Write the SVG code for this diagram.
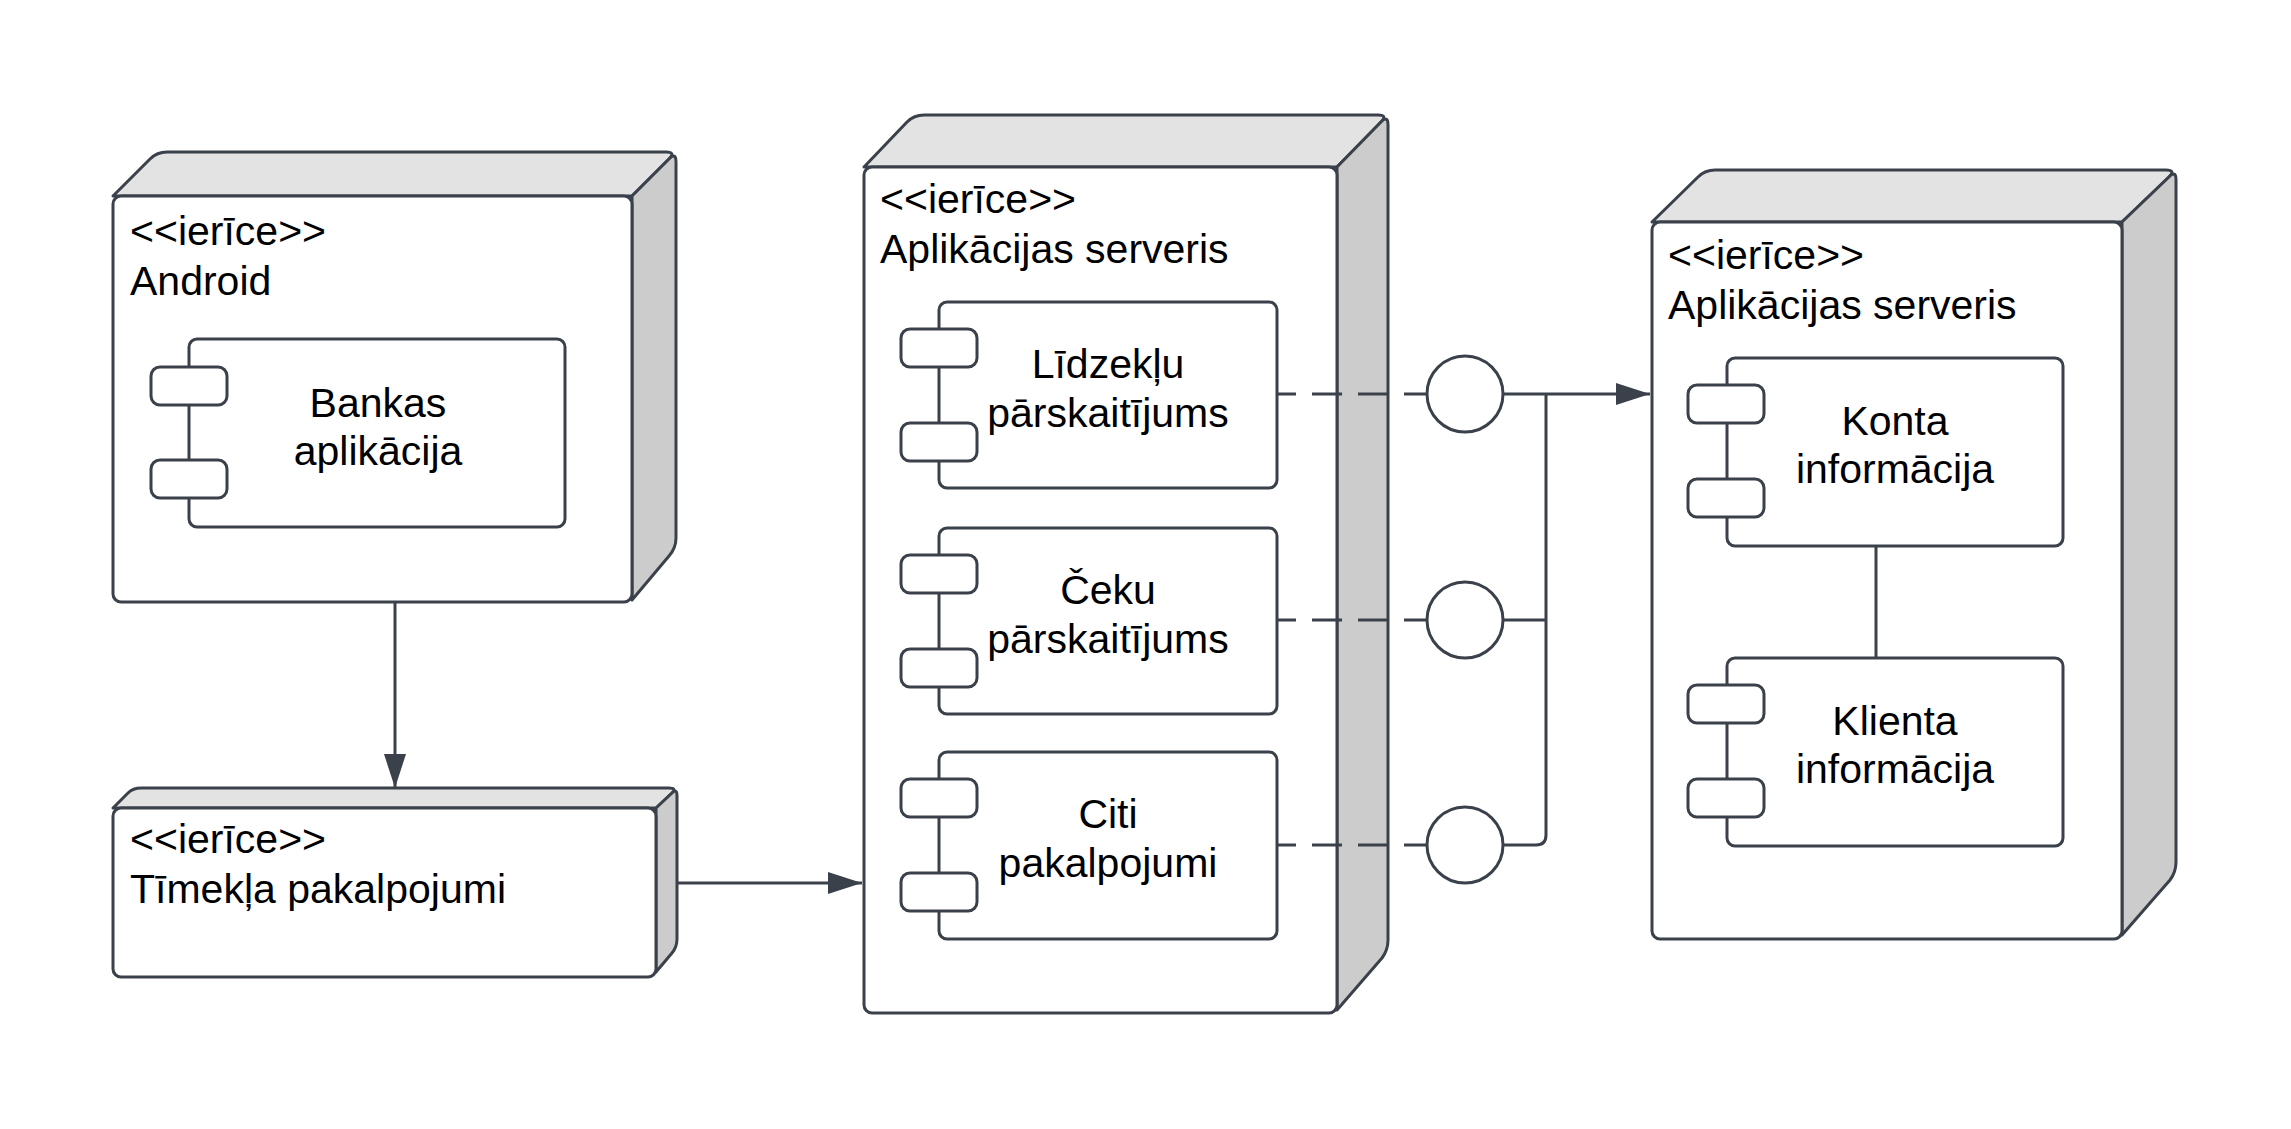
<svg xmlns="http://www.w3.org/2000/svg" width="2291" height="1129" viewBox="0 0 2291 1129">
<defs>
<style>
.top{fill:#e3e3e3;stroke:#3a414a;stroke-width:3;stroke-linejoin:round}
.side{fill:#cccccc;stroke:#3a414a;stroke-width:3;stroke-linejoin:round}
.front{fill:#ffffff;stroke:#3a414a;stroke-width:3}
.comp{fill:#ffffff;stroke:#3a414a;stroke-width:3}
.port{fill:#ffffff;stroke:#3a414a;stroke-width:3}
.lbl{font-family:"Liberation Sans",Arial,sans-serif;font-size:41px;fill:#000000}
.ctr{text-anchor:middle}
.edge{fill:none;stroke:#3a414a;stroke-width:3}
.dash{stroke-dasharray:30 16;stroke-dashoffset:11}
.iface{fill:#ffffff;stroke:#3a414a;stroke-width:3}
</style>
<marker id="arr" viewBox="0 0 34 22" refX="34" refY="11" markerWidth="34" markerHeight="22" markerUnits="userSpaceOnUse" orient="auto">
<path d="M0,0 L34,11 L0,22 Z" fill="#3a414a"/>
</marker>
</defs>
<rect width="2291" height="1129" fill="#ffffff"/>

<g id="node-android">
<path class="top" d="M113,196 L150,159 Q157,152 167,152 L666,152 Q676,152 669,159 L632,196 Z"/>
<path class="side" d="M632,196 L669,159 Q676,152 676,162 L676,538 Q676,548 669,556 L632,600 Z"/>
<rect class="front" x="113" y="196" width="519" height="406" rx="8"/>
<text class="lbl" x="130" y="245">&lt;&lt;ierīce&gt;&gt;</text>
<text class="lbl" x="130" y="295">Android</text>
</g>

<g id="comp-bankas">
<rect class="comp" x="189" y="339" width="376" height="188" rx="8"/>
<rect class="port" x="151" y="367" width="76" height="38" rx="9"/>
<rect class="port" x="151" y="460" width="76" height="38" rx="9"/>
<text class="lbl ctr" x="378" y="417">Bankas</text>
<text class="lbl ctr" x="378" y="465">aplikācija</text>
</g>

<g id="node-timekla">
<path class="top" d="M113,808 L128,793 Q133,788 141,788 L669,788 Q677,788 672,793 L656,808 Z"/>
<path class="side" d="M656,808 L672,793 Q677,788 677,796 L677,939 Q677,947 672,953 L656,972 Z"/>
<rect class="front" x="113" y="808" width="543" height="169" rx="8"/>
<text class="lbl" x="130" y="853">&lt;&lt;ierīce&gt;&gt;</text>
<text class="lbl" x="130" y="903">Tīmekļa pakalpojumi</text>
</g>

<g id="node-server1">
<path class="top" d="M864,167 L907,122 Q914,115 924,115 L1378,115 Q1388,115 1381,122 L1337,167 Z"/>
<path class="side" d="M1337,167 L1381,122 Q1388,115 1388,125 L1388,940 Q1388,950 1382,958 L1337,1010 Z"/>
<rect class="front" x="864" y="167" width="473" height="846" rx="8"/>
<text class="lbl" x="880" y="213">&lt;&lt;ierīce&gt;&gt;</text>
<text class="lbl" x="880" y="263">Aplikācijas serveris</text>
</g>

<g id="comp-lidzeklu">
<rect class="comp" x="939" y="302" width="338" height="186" rx="8"/>
<rect class="port" x="901" y="329" width="76" height="38" rx="9"/>
<rect class="port" x="901" y="423" width="76" height="38" rx="9"/>
<text class="lbl ctr" x="1108" y="378">Līdzekļu</text>
<text class="lbl ctr" x="1108" y="427">pārskaitījums</text>
</g>

<g id="comp-ceku">
<rect class="comp" x="939" y="528" width="338" height="186" rx="8"/>
<rect class="port" x="901" y="555" width="76" height="38" rx="9"/>
<rect class="port" x="901" y="649" width="76" height="38" rx="9"/>
<text class="lbl ctr" x="1108" y="604">Čeku</text>
<text class="lbl ctr" x="1108" y="653">pārskaitījums</text>
</g>

<g id="comp-citi">
<rect class="comp" x="939" y="752" width="338" height="187" rx="8"/>
<rect class="port" x="901" y="779" width="76" height="38" rx="9"/>
<rect class="port" x="901" y="873" width="76" height="38" rx="9"/>
<text class="lbl ctr" x="1108" y="828">Citi</text>
<text class="lbl ctr" x="1108" y="877">pakalpojumi</text>
</g>

<g id="node-server2">
<path class="top" d="M1652,222 L1698,177 Q1705,170 1715,170 L2166,170 Q2176,170 2169,177 L2122,222 Z"/>
<path class="side" d="M2122,222 L2169,177 Q2176,170 2176,180 L2176,862 Q2176,872 2170,880 L2122,935 Z"/>
<rect class="front" x="1652" y="222" width="470" height="717" rx="8"/>
<text class="lbl" x="1668" y="269">&lt;&lt;ierīce&gt;&gt;</text>
<text class="lbl" x="1668" y="319">Aplikācijas serveris</text>
</g>

<g id="comp-konta">
<rect class="comp" x="1727" y="358" width="336" height="188" rx="8"/>
<rect class="port" x="1688" y="385" width="76" height="38" rx="9"/>
<rect class="port" x="1688" y="479" width="76" height="38" rx="9"/>
<text class="lbl ctr" x="1895" y="435">Konta</text>
<text class="lbl ctr" x="1895" y="483">informācija</text>
</g>

<g id="comp-klienta">
<rect class="comp" x="1727" y="658" width="336" height="188" rx="8"/>
<rect class="port" x="1688" y="685" width="76" height="38" rx="9"/>
<rect class="port" x="1688" y="779" width="76" height="38" rx="9"/>
<text class="lbl ctr" x="1895" y="735">Klienta</text>
<text class="lbl ctr" x="1895" y="783">informācija</text>
</g>

<g id="iface-1"><circle class="iface" cx="1465" cy="394" r="38"/></g>
<g id="iface-2"><circle class="iface" cx="1465" cy="620" r="38"/></g>
<g id="iface-3"><circle class="iface" cx="1465" cy="845" r="38"/></g>

<g id="connectors">
<path class="edge" d="M395,602 V788" marker-end="url(#arr)"/>
<path class="edge" d="M677,883 H862" marker-end="url(#arr)"/>
<path class="edge dash" d="M1277,394 H1427"/>
<path class="edge dash" d="M1277,620 H1427"/>
<path class="edge dash" d="M1277,845 H1427"/>
<path class="edge" d="M1503,394 H1650" marker-end="url(#arr)"/>
<path class="edge" d="M1546,394 V835 Q1546,845 1536,845 H1503"/>
<path class="edge" d="M1503,620 H1546"/>
<path class="edge" d="M1876,546 V658"/>
</g>
</svg>
